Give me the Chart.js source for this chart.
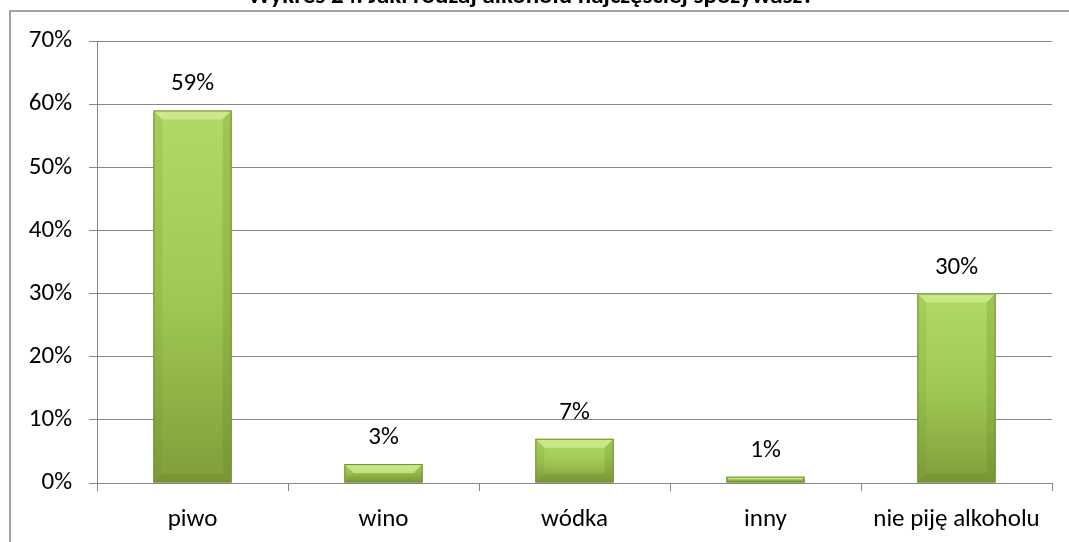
<!DOCTYPE html>
<html>
<head>
<meta charset="utf-8">
<script src="https://cdn.jsdelivr.net/npm/chart.js@4"></script>
<style>
  html, body { margin: 0; padding: 0; background: #fff; }
  #wrap { width: 1069px; height: 542px; overflow: hidden; position: relative; }
  #chart { position: absolute; left: 0; top: -18px; }
</style>
</head>
<body>
<div id="wrap"><canvas id="chart" width="1069" height="560"></canvas></div>
<script>
// ── Data ─────────────────────────────
const TITLE      = 'Wykres 24. Jaki rodzaj alkoholu najczęściej spożywasz?';
const categories = ['piwo', 'wino', 'wódka', 'inny', 'nie piję alkoholu'];
const values     = [59, 3, 7, 1, 30];
const yTicks     = [0, 10, 20, 30, 40, 50, 60, 70];

const FONT = 'Carlito, Calibri, Lato, sans-serif';
const GRID = '#868686';
const SHIFT = 18; // canvas is pushed up so the title is cut like in the scan

// vertical gradient per bar, light top -> olive bottom
function barFill(ctx) {
  const chart = ctx.chart;
  const y = chart.scales && chart.scales.y;
  if (!y || !chart.chartArea) return '#9bc24c';
  const top = y.getPixelForValue(values[ctx.dataIndex]);
  const bottom = y.getPixelForValue(0);
  const g = chart.ctx.createLinearGradient(0, top, 0, bottom);
  g.addColorStop(0, '#b2d966');
  g.addColorStop(0.5, '#a0c953');
  g.addColorStop(1, '#809e3c');
  return g;
}

// outer frame of the chart area
const framePlugin = {
  id: 'frame',
  beforeDraw(chart) {
    const c = chart.ctx;
    c.save();
    c.strokeStyle = GRID;
    c.lineWidth = 1.5;
    c.strokeRect(10, 11 + SHIFT, 1200, 800);
    c.restore();
  }
};

// soft bevel on each bar + value labels above
const bevelPlugin = {
  id: 'bevel',
  afterDatasetsDraw(chart) {
    const c = chart.ctx;
    const meta = chart.getDatasetMeta(0);
    meta.data.forEach((bar, i) => {
      const l = bar.x - bar.width / 2, r = bar.x + bar.width / 2;
      const t = bar.y, b = bar.base;
      const h = b - t;
      const e = Math.min(9, h / 2);
      c.save();
      c.fillStyle = 'rgba(225,248,170,0.5)';
      c.beginPath();
      c.moveTo(l, t); c.lineTo(r, t); c.lineTo(r - e, t + e); c.lineTo(l + e, t + e); c.closePath();
      c.fill();
      c.fillStyle = 'rgba(90,120,30,0.12)';
      c.beginPath();
      c.moveTo(l, t); c.lineTo(l + e, t + e); c.lineTo(l + e, b - e); c.lineTo(l, b); c.closePath();
      c.fill();
      c.fillStyle = 'rgba(90,120,30,0.2)';
      c.beginPath();
      c.moveTo(r, t); c.lineTo(r - e, t + e); c.lineTo(r - e, b - e); c.lineTo(r, b); c.closePath();
      c.fill();
      c.fillStyle = 'rgba(70,95,20,0.15)';
      c.beginPath();
      c.moveTo(l, b); c.lineTo(r, b); c.lineTo(r - e, b - e); c.lineTo(l + e, b - e); c.closePath();
      c.fill();
      c.strokeStyle = '#718f33';
      c.lineWidth = 1;
      c.strokeRect(l + 0.5, t + 0.5, bar.width - 1, h - 1);
      c.fillStyle = '#000';
      c.font = '25px ' + FONT;
      c.textAlign = 'center';
      c.textBaseline = 'alphabetic';
      c.fillText(values[i] + '%', bar.x, t - 20);
      c.restore();
    });
  }
};

new Chart(document.getElementById('chart'), {
  type: 'bar',
  data: {
    labels: categories,
    datasets: [{
      data: values,
      backgroundColor: barFill,
      borderWidth: 0,
      categoryPercentage: 1,
      barPercentage: 0.41,
    }],
  },
  options: {
    responsive: false,
    animation: false,
    layout: { padding: { left: 10, right: 17, top: 0, bottom: 0 } },
    plugins: {
      legend: { display: false },
      tooltip: { enabled: false },
      title: {
        display: true,
        text: TITLE,
        color: '#000',
        font: { family: FONT, size: 25, weight: 'bold', lineHeight: 1.2 },
        padding: { top: 0, bottom: 41 + SHIFT - 30 },
      },
    },
    scales: {
      x: {
        grid: { drawOnChartArea: false, drawTicks: true, tickLength: 8, color: GRID, offset: true },
        border: { color: GRID, width: 1 },
        ticks: { color: '#000', font: { family: FONT, size: 25 }, padding: 14, maxRotation: 0 },
        afterFit(s) { s.height = 560 - 483 - SHIFT; },
      },
      y: {
        min: 0, max: 70,
        afterBuildTicks(s) { s.ticks = yTicks.map(v => ({ value: v })); },
        grid: { color: GRID, tickLength: 8, lineWidth: 1 },
        border: { color: GRID, width: 1 },
        ticks: { color: '#000', font: { family: FONT, size: 25 }, padding: 17, callback: v => v + '%' },
        afterFit(s) { s.width = 87; },
      },
    },
  },
  plugins: [framePlugin, bevelPlugin],
});
</script>
</body>
</html>
